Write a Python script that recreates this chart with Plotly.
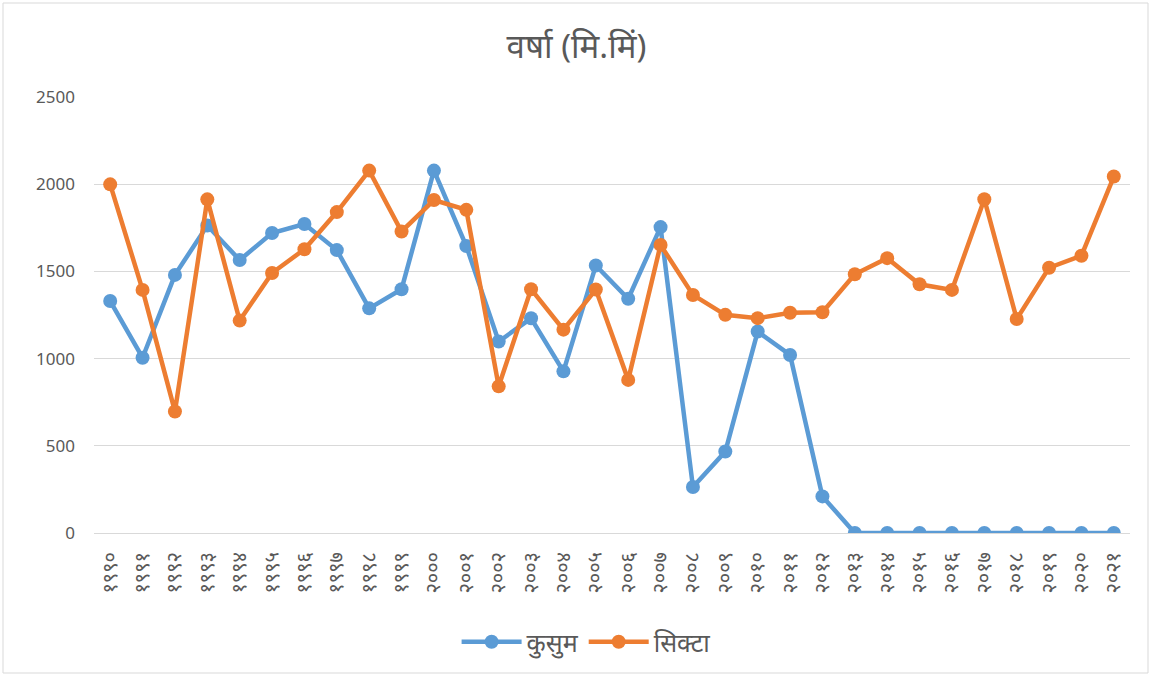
import plotly.graph_objects as go

years = ["१९९०", "१९९१", "१९९२", "१९९३", "१९९४", "१९९५", "१९९६", "१९९७", "१९९८", "१९९९",
         "२०००", "२००१", "२००२", "२००३", "२००४", "२००५", "२००६", "२००७", "२००८", "२००९",
         "२०१०", "२०११", "२०१२", "२०१३", "२०१४", "२०१५", "२०१६", "२०१७", "२०१८", "२०१९",
         "२०२०", "२०२१"]

kusum = [1330, 1005, 1480, 1763, 1565, 1720, 1772, 1622, 1288, 1398,
         2078, 1645, 1098, 1231, 927, 1534, 1343, 1754, 264, 467,
         1155, 1021, 210, 0, 0, 0, 0, 0, 0, 0, 0, 0]

sikta = [1999, 1394, 697, 1913, 1218, 1491, 1627, 1840, 2078, 1729,
         1909, 1853, 841, 1398, 1166, 1396, 878, 1652, 1365, 1251,
         1232, 1263, 1266, 1484, 1576, 1426, 1394, 1914, 1227, 1521,
         1590, 2044]

font_family = "Noto Sans, Noto Sans Devanagari, sans-serif"
text_color = "#595959"

fig = go.Figure()
fig.add_trace(go.Scatter(x=years, y=kusum, mode="lines+markers", name="कुसुम",
                         line=dict(color="#5B9BD5", width=4.5),
                         marker=dict(color="#5B9BD5", size=14)))
fig.add_trace(go.Scatter(x=years, y=sikta, mode="lines+markers", name="सिक्टा",
                         line=dict(color="#ED7D31", width=4.5),
                         marker=dict(color="#ED7D31", size=14)))

fig.update_layout(
    width=1153, height=677,
    paper_bgcolor="white", plot_bgcolor="white",
    margin=dict(l=94, r=23, t=97, b=144),
    font=dict(family=font_family, color=text_color, size=17),
    title=dict(text="वर्षा (मि.मिं)", x=0.5, xanchor="center", y=0.932, yanchor="middle",
               font=dict(size=33, color=text_color)),
    showlegend=True,
    legend=dict(orientation="h", x=0.475, xanchor="center", y=-0.25, yanchor="middle",
                font=dict(size=25, color=text_color), itemwidth=60),
    xaxis=dict(type="category", range=[-0.5, 31.5], tickangle=-90, showgrid=False,
               showline=True, linecolor="#D9D9D9", linewidth=1, ticks="",
               ticklabelstandoff=10,
               tickfont=dict(size=20, color=text_color)),
    yaxis=dict(range=[0, 2500], dtick=500, showgrid=True, gridcolor="#D9D9D9", gridwidth=1,
               zeroline=False, ticks="", ticklabelstandoff=18,
               tickfont=dict(size=17, color=text_color)),
    shapes=[dict(type="rect", xref="paper", yref="paper",
                 x0=-91/1036, x1=1+18/1036, y0=-140/436, y1=1+94/436,
                 line=dict(color="#D9D9D9", width=1), fillcolor="rgba(0,0,0,0)")],
)

fig.write_html("out.html", config={"displayModeBar": False},
               post_script="document.body.style.margin='0px';")
